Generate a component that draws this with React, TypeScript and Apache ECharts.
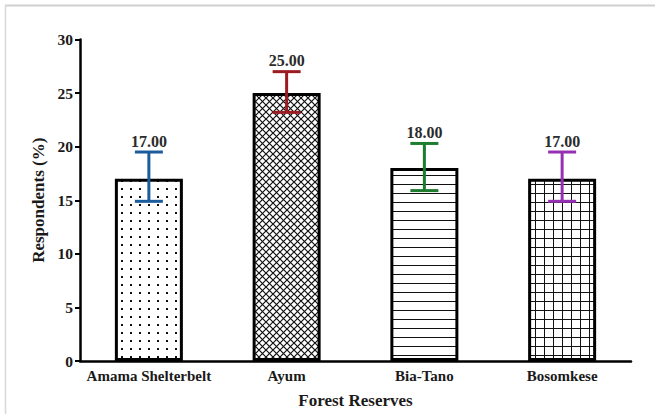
import React, { useEffect, useRef } from "react";
import * as echarts from "echarts";

// Share of respondents per forest reserve, with error ranges
const reserves = ["Amama Shelterbelt", "Ayum", "Bia-Tano", "Bosomkese"];
const respondents = [17, 25, 18, 17];
const errorLow = [14.9, 23.2, 15.9, 14.9];
const errorHigh = [19.5, 27.0, 20.3, 19.5];
const errorColors = ["#1b5c9c", "#9a1b22", "#1d7c2e", "#9630b2"];
const patternKinds = ["dots", "crosshatch", "hlines", "grid"];

const FONT = "Liberation Serif";

function makePattern(kind: string) {
  const c = document.createElement("canvas");
  let w = 9;
  let h = 9;
  if (kind === "dots") { w = 9; h = 8; }
  if (kind === "crosshatch") { w = 7; h = 7; }
  c.width = w;
  c.height = h;
  const ctx = c.getContext("2d")!;
  ctx.fillStyle = "#ffffff";
  ctx.fillRect(0, 0, w, h);
  ctx.fillStyle = "#111";
  ctx.strokeStyle = "#111";
  ctx.lineWidth = 1.2;
  if (kind === "dots") {
    ctx.fillRect(4, 4, 2, 2);
  } else if (kind === "hlines") {
    ctx.fillRect(0, 4, w, 1);
  } else if (kind === "grid") {
    ctx.fillRect(0, 4, w, 1);
    ctx.fillRect(4, 0, 1, h);
  } else if (kind === "crosshatch") {
    ctx.beginPath();
    ctx.moveTo(-1, -1);
    ctx.lineTo(w + 1, h + 1);
    ctx.moveTo(w + 1, -1);
    ctx.lineTo(-1, h + 1);
    ctx.stroke();
  }
  return { image: c, repeat: "repeat" as const, imageWidth: w, imageHeight: h };
}

export default function App() {
  const ref = useRef<HTMLDivElement>(null);

  useEffect(() => {
    if (!ref.current) return;
    const chart = echarts.init(ref.current, undefined, { renderer: "svg" });

    const barData = respondents.map((v, i) => ({
      value: v,
      itemStyle: {
        color: makePattern(patternKinds[i]) as any,
        borderColor: "#000",
        borderWidth: 3,
      },
    }));

    const errData = reserves.map((_, i) => [i, errorLow[i], errorHigh[i], respondents[i]]);

    chart.setOption({
      animation: false,
      backgroundColor: "#ffffff",
      graphic: [
        { type: "line", shape: { x1: 5, y1: 5.5, x2: 655, y2: 5.5 }, style: { stroke: "#cfcfcf", lineWidth: 2 } },
        { type: "line", shape: { x1: 5.5, y1: 5, x2: 5.5, y2: 414 }, style: { stroke: "#d8d8d8", lineWidth: 1.5 } },
      ],
      grid: { left: 80, right: 24, top: 39.5, bottom: 53, containLabel: false },
      xAxis: {
        type: "category",
        data: reserves,
        name: "Forest Reserves",
        nameLocation: "middle",
        nameGap: 31,
        nameTextStyle: { fontFamily: FONT, fontWeight: "bold", fontSize: 17, color: "#1a1a1a" },
        axisLine: { lineStyle: { color: "#000", width: 2.5 } },
        axisTick: { alignWithLabel: true, length: 3, lineStyle: { color: "#000", width: 2 } },
        axisLabel: { interval: 0, fontFamily: FONT, fontWeight: "bold", fontSize: 15, color: "#1a1a1a", margin: 7 },
      },
      yAxis: {
        type: "value",
        min: 0,
        max: 30,
        interval: 5,
        name: "Respondents (%)",
        nameLocation: "middle",
        nameGap: 33,
        nameRotate: 90,
        nameTextStyle: { fontFamily: FONT, fontWeight: "bold", fontSize: 17, color: "#1a1a1a" },
        axisLine: { show: true, lineStyle: { color: "#000", width: 2.5 } },
        axisTick: { show: true, length: 5, lineStyle: { color: "#000", width: 2 } },
        splitLine: { show: false },
        axisLabel: { fontFamily: FONT, fontWeight: "bold", fontSize: 15.5, color: "#1a1a1a", margin: 7 },
      },
      series: [
        {
          type: "bar",
          data: barData,
          barWidth: 68,
          z: 2,
        },
        {
          type: "custom",
          data: errData,
          z: 5,
          renderItem: (params: any, api: any) => {
            const idx = api.value(0);
            const top = api.coord([idx, api.value(2)]);
            const bottom = api.coord([idx, api.value(1)]);
            const half = 14;
            const color = errorColors[params.dataIndex];
            const st = { stroke: color, lineWidth: 3 };
            return {
              type: "group",
              children: [
                { type: "line", shape: { x1: top[0], y1: top[1], x2: bottom[0], y2: bottom[1] }, style: st },
                { type: "line", shape: { x1: top[0] - half, y1: top[1], x2: top[0] + half, y2: top[1] }, style: st },
                { type: "line", shape: { x1: bottom[0] - half, y1: bottom[1], x2: bottom[0] + half, y2: bottom[1] }, style: st },
                {
                  type: "text",
                  x: top[0],
                  y: top[1] - 3,
                  style: {
                    text: Number(api.value(3)).toFixed(2),
                    fontFamily: FONT,
                    fontWeight: "bold",
                    fontSize: 16,
                    fill: "#2b2b2b",
                    align: "center",
                    verticalAlign: "bottom",
                  },
                },
              ],
            };
          },
        },
      ],
    });

    return () => chart.dispose();
  }, []);

  return (
    <div
      ref={ref}
      style={{ position: "absolute", left: 0, top: 0, width: 655, height: 414, background: "#fff" }}
    />
  );
}
